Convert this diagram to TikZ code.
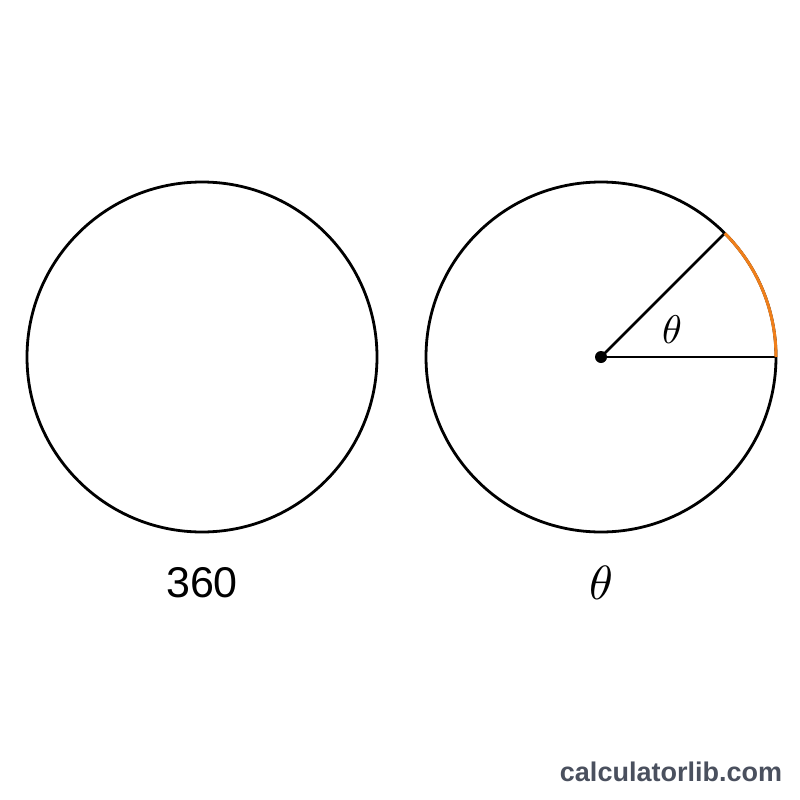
\documentclass[tikz,border=0pt]{standalone}
\usepackage{fontspec}
\setsansfont{Liberation Sans}
\usetikzlibrary{calc}
\definecolor{arcorange}{HTML}{F07F1A}
\definecolor{wmgray}{HTML}{4A505E}
\begin{document}
\begin{tikzpicture}[x=1pt,y=-1pt,
  circ/.style={draw=black,line width=2.8pt},
  ray/.style={draw=black,line width=2.8pt},
  arcline/.style={draw=arcorange,line width=3pt}]
\useasboundingbox[fill=white] (0,0) rectangle (800,800);
% left circle
\draw[circ] (202,357) circle[radius=175];
\node[font=\sffamily\fontsize{43}{43}\selectfont] (lbl360) at (202,583) {360};
% right circle
\coordinate (c) at (601,357);
\draw[circ] (c) circle[radius=175];
\coordinate (p0) at ($(c)+(175,0)$);
\coordinate (p45) at ($(c)+(123.74,-123.74)$);
\draw[ray] (c) -- (p45);
\draw[ray] (c) -- (p0);
\draw[arcline] (p0) arc[start angle=0,end angle=-45,radius=175];
\fill[black] (c) circle[radius=6];
\node[scale=4] (th) at (672,330) {$\theta$};
\node[scale=4.8] (thb) at (601,583) {$\theta$};
\node[font=\sffamily\bfseries\fontsize{27}{27}\selectfont,text=wmgray] (wm) at (671,772) {calculatorlib.com};
\end{tikzpicture}
\end{document}
